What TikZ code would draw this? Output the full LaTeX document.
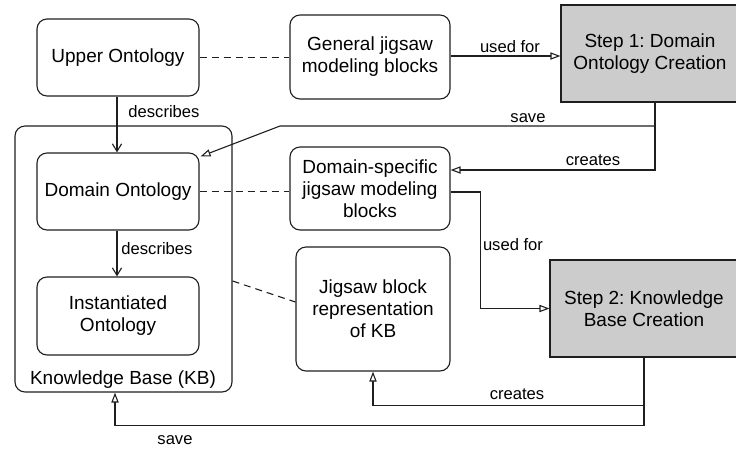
\documentclass[tikz,border=0pt]{standalone}
\usepackage{fontspec}
\setmainfont{Liberation Sans}
\usetikzlibrary{arrows.meta}
\frenchspacing
\definecolor{linec}{HTML}{1F1F1F}
\definecolor{stepfill}{HTML}{CCCCCC}
\tikzset{
  box/.style={draw=linec, line width=0.55pt, rounded corners=5pt, align=center,
    inner sep=0pt, font=\fontsize{9.5}{11}\selectfont},
  stepbox/.style={draw=linec, line width=0.55pt, fill=stepfill, align=center,
    inner sep=0pt, font=\fontsize{9.5}{11}\selectfont},
  conn/.style={draw=linec, line width=0.55pt},
  opentri/.style={conn, -{Triangle[open, length=5pt, width=3.6pt]}},
  barb/.style={conn, -{Straight Barb[length=3.8pt, width=4.6pt]}},
  assoc/.style={conn, dashed, dash pattern=on 3.5pt off 2.5pt},
  lbl/.style={font=\fontsize{8.3}{10}\selectfont, inner sep=0pt}
}
\begin{document}
\begin{tikzpicture}[x=0.5pt, y=-0.5pt]
\useasboundingbox (0,0) rectangle (736,452);

% Knowledge base container
\node[box, minimum width=108.5pt, minimum height=133pt] (kb) at (123.5,259) {};
\node[box, draw=none, anchor=base] (kblbl) at (123,384) {Knowledge Base (KB)};

% ontology boxes
\node[box, minimum width=81pt, minimum height=38.5pt] (up) at (118,57.5) {Upper Ontology};
\node[box, minimum width=81pt, minimum height=38.5pt] (dom) at (118,191.5) {Domain Ontology};
\node[box, minimum width=81pt, minimum height=39pt] (inst) at (118,316) {Instantiated\\Ontology};

% jigsaw block boxes
\node[box, minimum width=80pt, minimum height=42pt] (gen) at (370,57) {General jigsaw\\modeling blocks};
\node[box, minimum width=80pt, minimum height=41.5pt] (dspec) at (370,188.5) {Domain-specific\\jigsaw modeling\\blocks};
\node[box, minimum width=77pt, minimum height=62pt] (jig) at (373,309) {Jigsaw block\\representation\\of KB};

% process steps
\node[stepbox, minimum width=89pt, minimum height=48.5pt] (s1) at (650,53.5) {Step 1: Domain\\Ontology Creation};
\node[stepbox, minimum width=94pt, minimum height=48.5pt] (s2) at (644,308.5) {Step 2: Knowledge\\Base Creation};

% associations
\draw[assoc] (up.east) -- (gen.west |- up.east);
\draw[assoc] (dom.east) -- (dspec.west |- dom.east);
\draw[assoc] ([yshift=-11pt]kb.east) -- ([yshift=3.5pt]jig.west);

% describes
\draw[barb] ([xshift=-0.5pt]up.south) -- ([xshift=-0.5pt]dom.north);
\node[lbl] (d1) at (164,112) {describes};
\draw[barb] ([xshift=-0.5pt]dom.south) -- ([xshift=-0.5pt]inst.north);
\node[lbl] (d2) at (157,249) {describes};

% used for
\draw[opentri] ([yshift=0.5pt]gen.east) -- (s1.west |- 0,56);
\node[lbl] (u1) at (510,47) {used for};
\draw[opentri] ([yshift=-1.75pt]dspec.east) -- ++(30,0) |- (s2.west);
\node[lbl] (u2) at (513,245) {used for};

% step 1 outputs
\draw[opentri] ([xshift=2.5pt]s1.south) |- (280,126) -- ([shift={(1,4)}]dom.north east);
\node[lbl] (sv1) at (528,118) {save};
\draw[opentri] ([xshift=2.5pt]s1.south) |- ([yshift=9.25pt]dspec.east);
\node[lbl] (c1) at (593,160) {creates};

% step 2 outputs
\draw[opentri] (s2.south) -- ++(0,48) -| (jig.south);
\node[lbl] (c2) at (517,394) {creates};
\draw[opentri] (s2.south) -- ++(0,68) -| ([xshift=-4.25pt]kb.south);
\node[lbl] (sv2) at (175,440) {save};
\end{tikzpicture}
\end{document}
